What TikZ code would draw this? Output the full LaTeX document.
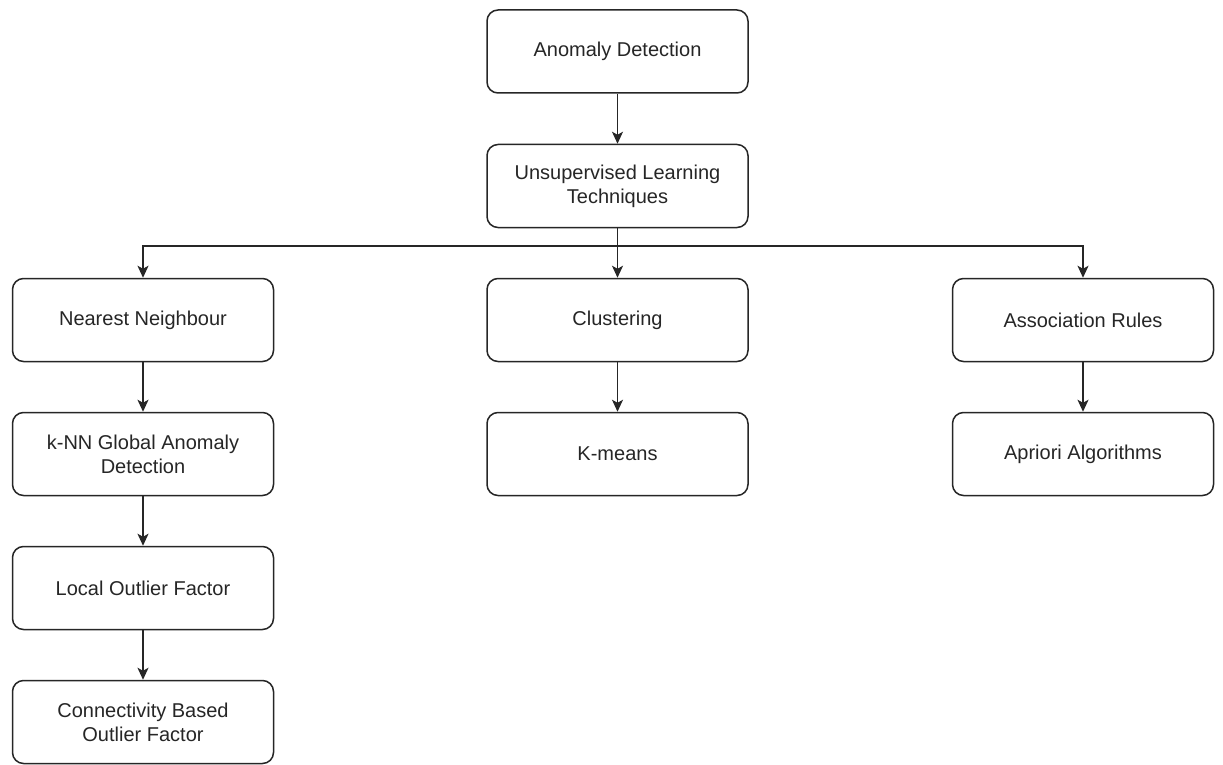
\documentclass[tikz,border=0pt]{standalone}
\usepackage{fontspec}
\setmainfont{Liberation Sans}
\usetikzlibrary{arrows.meta}
\begin{document}
\begin{tikzpicture}[x=1pt,y=-1pt,
  box/.style={draw=black!85, line width=1.5pt, rounded corners=11pt, minimum width=261pt, minimum height=83pt, align=center, font=\fontsize{20}{24}\selectfont, text=black!85, fill=white, inner sep=0pt},
  conn/.style={draw=black!85, line width=1.5pt, -{Stealth[length=12pt,width=11pt,inset=3pt]}}]
\useasboundingbox (0,0) rectangle (1223,765);
\node[box] (ad) at (617.5,51.5) {Anomaly Detection};
\node[box] (ul) at (617.5,186) {Unsupervised Learning\\Techniques};
\node[box] (nn) at (143,320) {Nearest Neighbour};
\node[box] (cl) at (617.5,320) {Clustering};
\node[box] (ar) at (1083,320) {Association Rules};
\node[box] (knn) at (143,454) {k-NN Global Anomaly\\Detection};
\node[box] (km) at (617.5,454) {K-means};
\node[box] (ap) at (1083,454) {Apriori Algorithms};
\node[box] (lof) at (143,588) {Local Outlier Factor};
\node[box] (cbof) at (143,722) {Connectivity Based\\Outlier Factor};
\coordinate (br) at (617.5,246);
\draw[conn] (ad) -- (ul);
\draw[conn] (ul) -- (cl);
\draw[conn] (br) -| (nn);
\draw[conn] (br) -| (ar);
\draw[conn] (nn) -- (knn);
\draw[conn] (knn) -- (lof);
\draw[conn] (lof) -- (cbof);
\draw[conn] (cl) -- (km);
\draw[conn] (ar) -- (ap);
\end{tikzpicture}
\end{document}
